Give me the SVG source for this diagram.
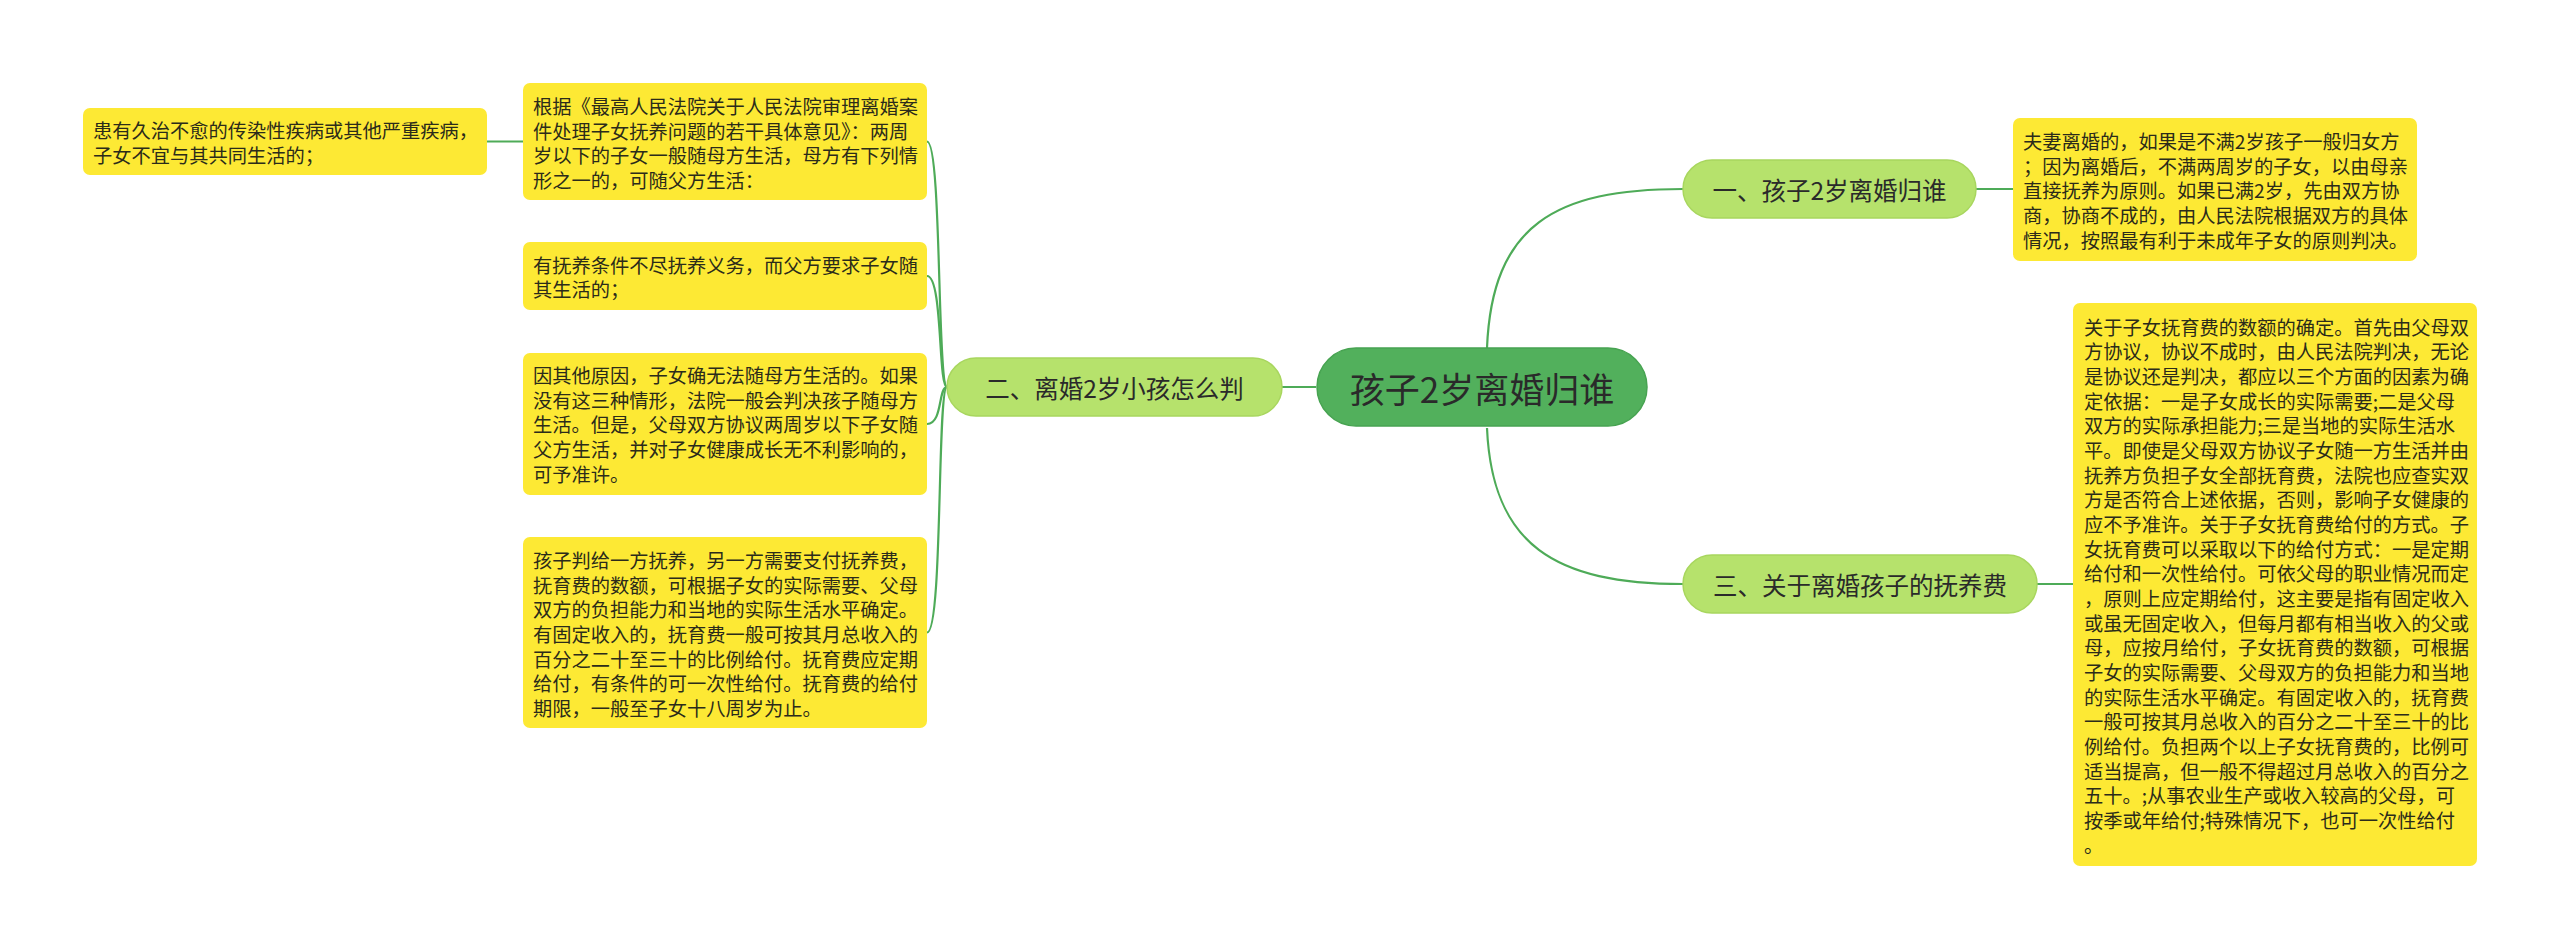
<svg xmlns="http://www.w3.org/2000/svg" width="2560" height="949" viewBox="0 0 2560 949">
<style>
.note{fill:#fde934}
.t{font-family:"Noto Sans CJK SC","Noto Sans",sans-serif;font-size:19.25px;fill:#2b2b1a;dominant-baseline:central}
.br{fill:#b6e26c;stroke:#a8d65e;stroke-width:1.5}
.bt{font-family:"Noto Sans CJK SC","Noto Sans",sans-serif;font-size:24.5px;fill:#2a2a2a;dominant-baseline:central;text-anchor:middle}
.ct{font-family:"Noto Sans CJK SC","Noto Sans",sans-serif;font-size:35px;fill:#2a2a2a;dominant-baseline:central;text-anchor:middle}
.ln{fill:none;stroke:#4eab58;stroke-width:2.2}
</style>
<rect width="2560" height="949" fill="#ffffff"/>
<g id="connectors">
<path class="ln" d="M1316,387 L1282,387"/>
<path class="ln" d="M1487,348 C1492,225 1555,189 1683,189"/>
<path class="ln" d="M1487,428 C1492,545 1555,584 1683,584"/>
<path class="ln" d="M1976,189 L2013,189"/>
<path class="ln" d="M2037,584 L2073,584"/>
<path class="ln" d="M947,387 C937,387 942,141.5 927,141.5"/>
<path class="ln" d="M947,387 C938,387 943,276 927,276"/>
<path class="ln" d="M947,387 C938,387 943,424 927,424"/>
<path class="ln" d="M947,387 C937,387 943,632.5 927,632.5"/>
<path class="ln" d="M523,141.5 L487,141.5"/>
</g>
<g id="center">
<rect x="1317" y="348" width="330" height="78" rx="39" fill="#52b05c" stroke="#47a351" stroke-width="1.5"/>
<text class="ct" x="1482" y="387">孩子2岁离婚归谁</text>
</g>
<g id="b2">
<rect class="br" x="947" y="358" width="335" height="58" rx="29"/>
<text class="bt" x="1114.5" y="387">二、离婚2岁小孩怎么判</text>
</g>
<g id="b1">
<rect class="br" x="1683" y="160" width="293" height="58" rx="29"/>
<text class="bt" x="1829.5" y="189">一、孩子2岁离婚归谁</text>
</g>
<g id="b3">
<rect class="br" x="1683" y="555" width="354" height="58" rx="29"/>
<text class="bt" x="1860" y="584">三、关于离婚孩子的抚养费</text>
</g>
<g id="nA">
<rect class="note" x="83" y="108" width="404" height="67" rx="7"/>
<text class="t" x="93" y="130"><tspan x="93">患有久治不愈的传染性疾病或其他严重疾病，</tspan><tspan x="93" dy="24.67">子女不宜与其共同生活的；</tspan></text>
</g>
<g id="nB">
<rect class="note" x="523" y="83" width="404" height="117" rx="7"/>
<text class="t" x="533" y="106"><tspan x="533">根据《最高人民法院关于人民法院审理离婚案</tspan><tspan x="533" dy="24.67">件处理子女抚养问题的若干具体意见》：两周</tspan><tspan x="533" dy="24.67">岁以下的子女一般随母方生活，母方有下列情</tspan><tspan x="533" dy="24.67">形之一的，可随父方生活：</tspan></text>
</g>
<g id="nC">
<rect class="note" x="523" y="242" width="404" height="68" rx="7"/>
<text class="t" x="533" y="264.5"><tspan x="533">有抚养条件不尽抚养义务，而父方要求子女随</tspan><tspan x="533" dy="24.67">其生活的；</tspan></text>
</g>
<g id="nD">
<rect class="note" x="523" y="353" width="404" height="142" rx="7"/>
<text class="t" x="533" y="375"><tspan x="533">因其他原因，子女确无法随母方生活的。如果</tspan><tspan x="533" dy="24.67">没有这三种情形，法院一般会判决孩子随母方</tspan><tspan x="533" dy="24.67">生活。但是，父母双方协议两周岁以下子女随</tspan><tspan x="533" dy="24.67">父方生活，并对子女健康成长无不利影响的，</tspan><tspan x="533" dy="24.67">可予准许。</tspan></text>
</g>
<g id="nE">
<rect class="note" x="523" y="537" width="404" height="191" rx="7"/>
<text class="t" x="533" y="560"><tspan x="533">孩子判给一方抚养，另一方需要支付抚养费，</tspan><tspan x="533" dy="24.67">抚育费的数额，可根据子女的实际需要、父母</tspan><tspan x="533" dy="24.67">双方的负担能力和当地的实际生活水平确定。</tspan><tspan x="533" dy="24.67">有固定收入的，抚育费一般可按其月总收入的</tspan><tspan x="533" dy="24.67">百分之二十至三十的比例给付。抚育费应定期</tspan><tspan x="533" dy="24.67">给付，有条件的可一次性给付。抚育费的给付</tspan><tspan x="533" dy="24.67">期限，一般至子女十八周岁为止。</tspan></text>
</g>
<g id="nR1">
<rect class="note" x="2013" y="118" width="404" height="143" rx="7"/>
<text class="t" x="2023" y="141"><tspan x="2023">夫妻离婚的，如果是不满2岁孩子一般归女方</tspan><tspan x="2023" dy="24.67">；因为离婚后，不满两周岁的子女，以由母亲</tspan><tspan x="2023" dy="24.67">直接抚养为原则。如果已满2岁，先由双方协</tspan><tspan x="2023" dy="24.67">商，协商不成的，由人民法院根据双方的具体</tspan><tspan x="2023" dy="24.67">情况，按照最有利于未成年子女的原则判决。</tspan></text>
</g>
<g id="nR2">
<rect class="note" x="2073" y="303" width="404" height="563" rx="7"/>
<text class="t" x="2084" y="326.5"><tspan x="2084">关于子女抚育费的数额的确定。首先由父母双</tspan><tspan x="2084" dy="24.67">方协议，协议不成时，由人民法院判决，无论</tspan><tspan x="2084" dy="24.67">是协议还是判决，都应以三个方面的因素为确</tspan><tspan x="2084" dy="24.67">定依据：一是子女成长的实际需要;二是父母</tspan><tspan x="2084" dy="24.67">双方的实际承担能力;三是当地的实际生活水</tspan><tspan x="2084" dy="24.67">平。即使是父母双方协议子女随一方生活并由</tspan><tspan x="2084" dy="24.67">抚养方负担子女全部抚育费，法院也应查实双</tspan><tspan x="2084" dy="24.67">方是否符合上述依据，否则，影响子女健康的</tspan><tspan x="2084" dy="24.67">应不予准许。关于子女抚育费给付的方式。子</tspan><tspan x="2084" dy="24.67">女抚育费可以采取以下的给付方式：一是定期</tspan><tspan x="2084" dy="24.67">给付和一次性给付。可依父母的职业情况而定</tspan><tspan x="2084" dy="24.67">，原则上应定期给付，这主要是指有固定收入</tspan><tspan x="2084" dy="24.67">或虽无固定收入，但每月都有相当收入的父或</tspan><tspan x="2084" dy="24.67">母，应按月给付，子女抚育费的数额，可根据</tspan><tspan x="2084" dy="24.67">子女的实际需要、父母双方的负担能力和当地</tspan><tspan x="2084" dy="24.67">的实际生活水平确定。有固定收入的，抚育费</tspan><tspan x="2084" dy="24.67">一般可按其月总收入的百分之二十至三十的比</tspan><tspan x="2084" dy="24.67">例给付。负担两个以上子女抚育费的，比例可</tspan><tspan x="2084" dy="24.67">适当提高，但一般不得超过月总收入的百分之</tspan><tspan x="2084" dy="24.67">五十。;从事农业生产或收入较高的父母，可</tspan><tspan x="2084" dy="24.67">按季或年给付;特殊情况下，也可一次性给付</tspan><tspan x="2084" dy="24.67">。</tspan></text>
</g>
</svg>
